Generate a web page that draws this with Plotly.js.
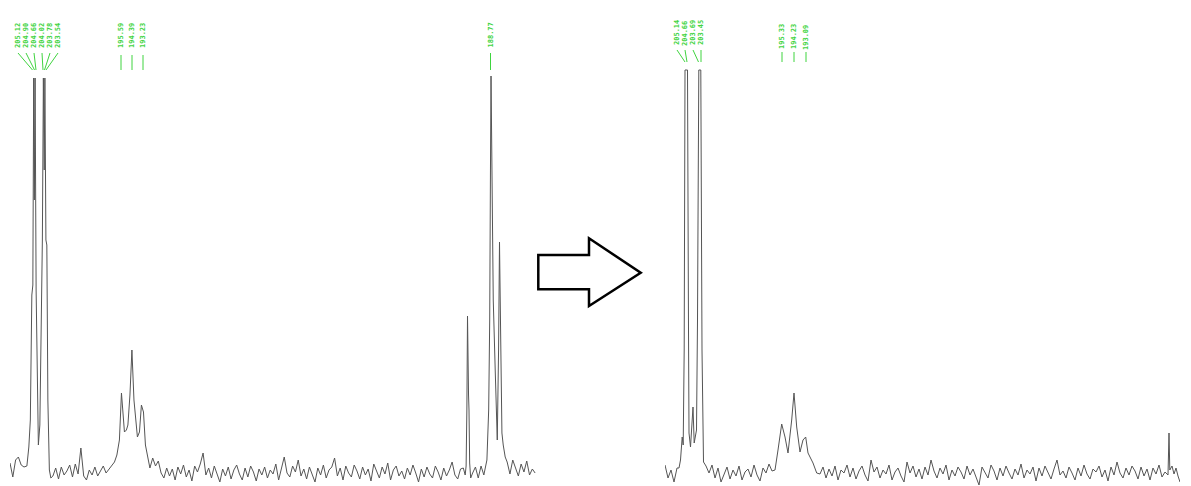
<!DOCTYPE html>
<html>
<head>
<meta charset="utf-8">
<script src="https://cdn.plot.ly/plotly-3.0.1.min.js"></script>
<style>html,body{margin:0;padding:0;background:#fff;}#chart{width:1191px;height:486px;}</style>
</head>
<body>
<div id="chart"></div>
<script>
// ---------------- DATA (13C NMR, ppm vs intensity, arbitrary units) ----------------
// Left spectrum (before)
const leftNoise1Start = 207.6, leftNoise1 = [7, -7, 10, 13, 5, 3];
const leftPeak1Ppm = [205.79, 205.58, 205.42, 205.26, 205.15, 205.06, 204.99, 204.91, 204.80, 204.72, 204.56, 204.40, 204.24, 204.13, 204.02, 203.93, 203.86, 203.75, 203.65, 203.54, 203.38, 203.22];
const leftPeak1Int = [4, 23, 50, 175, 185, 392, 270, 392, 180, 140, 25, 45, 170, 230, 392, 300, 392, 230, 225, 70, 0, -8];
const leftNoise2Start = 203.0, leftNoise2 = [-6, 2, -9, 3, -5, -1, 5, -7, 6, -4, 22, -6, -10, 0, -5, 3, -6, -1, 4, -3, 1, 5, 8];
const leftPeak2Ppm = [196.14, 195.87, 195.65, 195.49, 195.33, 195.12, 194.96, 194.74, 194.53, 194.31, 194.15, 193.94, 193.72, 193.51, 193.29, 193.08, 192.81, 192.60];
const leftPeak2Int = [15, 30, 77, 55, 38, 40, 45, 75, 120, 70, 50, 33, 38, 65, 58, 25, 12, 2];
const leftNoise3Start = 192.3, leftNoise3 = [
  12, 4, 9, -3, -8, 2, -6, 1, -10, 3,
  -4, 5, -7, 0, -11, 4, -2, 6, 17, -5,
  2, -8, 4, -3, -12, 1, -6, 3, -9, 0,
  5, -4, -10, 2, -7, 4, -2, -11, 1, -5,
  3, -8, 0, -4, 6, -10, 2, 13, -3, -7,
  4, -2, 10, -6, 1, -9, 3, -4, -12, 2,
  -5, 5, -8, 0, 3, 12, -6, 2, -10, 4,
  -3, -7, 5, -1, -9, 3, -5, 1, -11, 6,
  -2, -8, 3, -4, 7, -10, 0, 4, -6, -1,
  -9, 2, -5, 5, -3, -12, 1, -7, 3, -4,
  -8, 4, -2, -10, 2, -6, 0, 8, -5, -9,
  1];
const leftPeak3Ppm = [159.0, 158.8, 158.7, 158.62, 158.55, 158.44, 158.39, 158.32, 158.21, 158.0, 157.7, 157.4, 157.1, 156.8, 156.6, 156.47, 156.28, 156.17, 156.09, 156.03, 155.96, 155.79, 155.58, 155.36, 155.22, 155.12, 154.99, 154.86, 154.72, 154.51];
const leftPeak3Int = [2, -5, 4, 60, 154, 75, 60, 7, -8, -3, 3, -8, 4, -5, 3, 10, 60, 150, 300, 394, 330, 170, 100, 30, 120, 228, 130, 37, 25, 13];
const leftNoise4Start = 154.3, leftNoise4 = [8, -4, 10, 2, -6, 6, -2, 9, -5, 1, -3];

// Right spectrum (after)
const rightNoise1Start = 207.1, rightNoise1 = [5, -8, 0, -12, 2];
const rightPeak1Ppm = [205.70, 205.55, 205.38, 205.28, 205.18, 205.10, 204.85, 204.75, 204.70, 204.55, 204.30, 204.18, 203.95, 203.85, 203.72, 203.52, 203.40, 203.25, 203.00];
const rightPeak1Int = [2, 10, 33, 25, 120, 400, 400, 140, 37, 23, 63, 27, 40, 150, 400, 400, 120, 8, 4];
const rightNoise2Start = 202.7, rightNoise2 = [-3, 5, -8, 2, -12, -4, 3, -9, 0, -6, 4, -10, -2, 1, -7, 5, -5, -11, 2, -3, 6, -1];
const rightPeak2Ppm = [196.10, 195.80, 195.43, 195.10, 194.80, 194.43, 194.20, 193.93, 193.60, 193.30, 193.03, 192.80, 192.30, 191.93];
const rightPeak2Int = [0, 20, 46, 33, 17, 50, 77, 43, 18, 30, 33, 17, 7, -3];
const rightNoise3Start = 191.6, rightNoise3 = [
  -4, 3, -8, 1, -6, 4, -10, 0, -3, 5,
  -7, 2, -9, -1, 4, -5, -11, 10, -2, 3,
  -8, 0, -4, 5, -10, -2, 2, -6, -12, 8,
  -3, 4, -7, 1, -9, 3, -5, 10, -1, -8,
  2, -4, 5, -10, 0, -6, 3, -2, -9, 4,
  -5, 1, -7, -15, 3, -3, -8, 5, -1, -10,
  2, -6, 4, -3, -9, 1, -5, 6, -8, 0,
  -4, 3, -11, 2, -6, 4, -2, -9, 1, 10,
  -5, -1, -8, 3, -3, -10, 2, -6, 5, -4,
  -9, 1, -2, 4, -7, 0, -11, 3, -5, 8,
  -3, -8, 2, -5, 4, -1, -9, 3, -6, 1,
  -10, 2, -4, 5, -7, -2, -5];
const rightPeak3Ppm = [156.7, 156.62, 156.4, 156.2, 156.0, 155.8, 155.6];
const rightPeak3Int = [37, 0, 4, -4, 2, -6, -12];
const noiseStep = 0.3;

// Peak labels (ppm)
const leftLabelsA = ["205.12", "204.90", "204.66", "204.02", "203.78", "203.54"];
const leftLabelsB = ["195.59", "194.39", "193.23"];
const leftLabelsC = ["188.77"];
const rightLabelsA = ["205.14", "204.66", "203.69", "203.45"];
const rightLabelsB = ["195.33", "194.23", "193.09"];

// ---------------- BUILD ----------------
function grid(start, vals) { return vals.map((v, i) => +(start - i * noiseStep).toFixed(3)); }

const leftX = [].concat(grid(leftNoise1Start, leftNoise1), leftPeak1Ppm, grid(leftNoise2Start, leftNoise2), leftPeak2Ppm,
  grid(leftNoise3Start, leftNoise3), leftPeak3Ppm, grid(leftNoise4Start, leftNoise4));
const leftY = [].concat(leftNoise1, leftPeak1Int, leftNoise2, leftPeak2Int, leftNoise3, leftPeak3Int, leftNoise4);
const rightX = [].concat(grid(rightNoise1Start, rightNoise1), rightPeak1Ppm, grid(rightNoise2Start, rightNoise2), rightPeak2Ppm,
  grid(rightNoise3Start, rightNoise3), rightPeak3Ppm);
const rightY = [].concat(rightNoise1, rightPeak1Int, rightNoise2, rightPeak2Int, rightNoise3, rightPeak3Int);

const W = 1191, H = 486;
const px = x => x / W, py = y => 1 - y / H;
const lineColor = '#555555';
const green = '#3fd43f';

const traces = [
  {x: leftX, y: leftY, type: 'scatter', mode: 'lines', line: {color: lineColor, width: 1}, xaxis: 'x', yaxis: 'y', hoverinfo: 'x+y'},
  {x: rightX, y: rightY, type: 'scatter', mode: 'lines', line: {color: lineColor, width: 1}, xaxis: 'x2', yaxis: 'y2', hoverinfo: 'x+y'}
];

const annotations = [];
const shapes = [];
function addLabels(labels, xs, yc, lineTop, lineBot, targets) {
  labels.forEach((t, i) => {
    annotations.push({text: '<b>' + t + '</b>', x: px(xs[i]), y: py(yc), xref: 'paper', yref: 'paper', showarrow: false, textangle: -90,
      xanchor: 'center', yanchor: 'middle', font: {family: 'DejaVu Sans Mono', size: 7, color: green}});
    shapes.push({type: 'line', xref: 'paper', yref: 'paper', x0: px(xs[i]), y0: py(lineTop), x1: px(targets[i]), y1: py(lineBot),
      line: {color: green, width: 1}});
  });
}
addLabels(leftLabelsA, [18, 26, 34, 42, 50, 58], 36, 53, 70, [32.5, 34.5, 36, 43, 44.5, 46]);
addLabels(leftLabelsB, [121, 132, 143], 36, 55, 70, [121, 132, 143]);
addLabels(leftLabelsC, [490.5], 35, 53, 70, [490.5]);
addLabels(rightLabelsA, [677, 685, 693, 701], 33, 50, 62, [685, 687, 698.5, 701]);
addLabels(rightLabelsB, [782, 794, 806], 37, 52, 62, [782, 794, 806]);

// Arrow
const arrowPts = [[538.3, 255], [589, 255], [589, 238.3], [640.7, 272.7], [589, 306], [589, 289.3], [538.3, 289.3]];
shapes.push({type: 'path', xref: 'paper', yref: 'paper',
  path: 'M ' + arrowPts.map(p => px(p[0]).toFixed(5) + ',' + py(p[1]).toFixed(5)).join(' L ') + ' Z',
  line: {color: '#000', width: 2.5}, fillcolor: '#fff'});

const hidden = {showgrid: false, zeroline: false, showline: false, showticklabels: false, ticks: ''};
const layout = {
  width: W, height: H, margin: {l: 0, r: 0, t: 0, b: 0}, paper_bgcolor: '#fff', plot_bgcolor: 'rgba(0,0,0,0)',
  showlegend: false,
  xaxis: Object.assign({domain: [10 / W, 537 / W], range: [207.6, 151.1]}, hidden),
  yaxis: Object.assign({domain: [0, 1], range: [-16, 470]}, hidden),
  xaxis2: Object.assign({domain: [665 / W, 1180 / W], range: [207.1, 155.6], anchor: 'y2'}, hidden),
  yaxis2: Object.assign({domain: [0, 1], range: [-16, 470], anchor: 'x2'}, hidden),
  annotations: annotations, shapes: shapes
};
Plotly.newPlot('chart', traces, layout, {displayModeBar: false, staticPlot: true});
</script>
</body>
</html>
